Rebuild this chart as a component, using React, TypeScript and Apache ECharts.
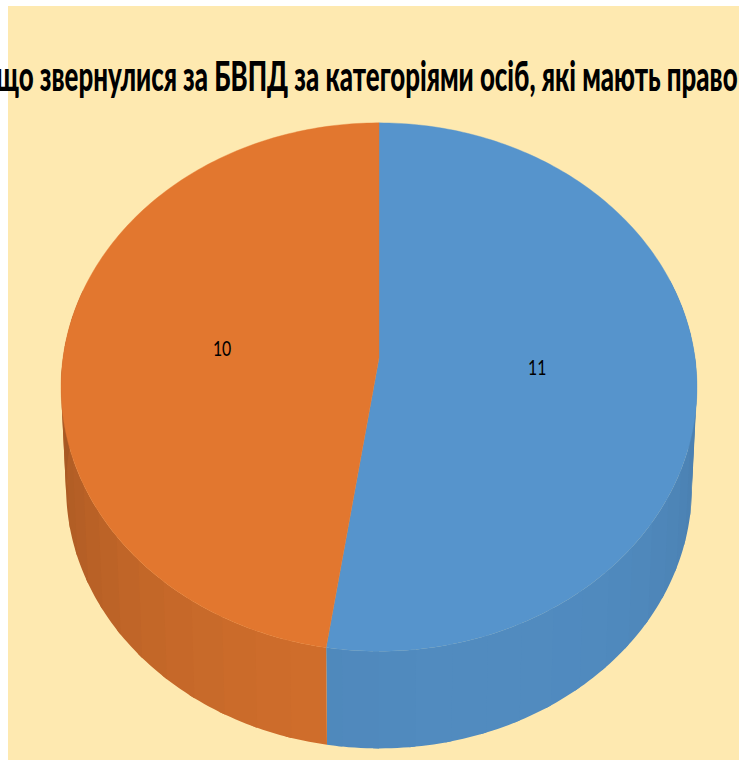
import React, { useEffect, useRef } from "react";
import * as echarts from "echarts";

const categories = ["Категорія 1", "Категорія 2"];
const values = [11, 10];
const titleText = "що звернулися за БВПД за категоріями осіб, які мають право";

const sliceColors = [[86, 148, 204], [226, 119, 47]];
const toRad = Math.PI / 180;
const total = values.reduce((a, b) => a + b, 0);

// perspective projection of the pie's discs
const CX = 379, K = 0.11;
const topDisc = { cy: 358, rx: 316, ry: 261 };
const baseDisc = { cy: 458.5, rx: 311, ry: 258 };
const project = (d: { cy: number; rx: number; ry: number }, deg: number, f = 1): number[] => {
  const u = Math.sin(deg * toRad) * f;
  const v = Math.cos(deg * toRad) * f;
  const s = 1 / (1 + K * v);
  return [CX + d.rx * u * s, d.cy - d.ry * v * s];
};
const sliceRange = (i: number) => {
  const before = values.slice(0, i).reduce((a, b) => a + b, 0);
  return [(before / total) * 360, ((before + values[i]) / total) * 360];
};
const shade = (c: number[], deg: number) => {
  const f = 0.79 + 0.14 * -Math.cos(deg * toRad) + 0.05 * Math.sin(deg * toRad);
  return `rgb(${c.map((x) => Math.round(x * f)).join(",")})`;
};

const renderSide = (params: any) => {
  const i = params.dataIndex;
  const [a, b] = sliceRange(i);
  const children: any[] = [];
  const step = 6;
  for (let t = a; t < b; t += step) {
    const e = Math.min(t + step, b);
    const mid = (t + e) / 2;
    if (Math.cos(mid * toRad) > 0.3) continue;
    const stop = Math.min(e + 1, b);
    const pts: number[][] = [];
    for (let k = t; k < stop; k += 1) pts.push(project(topDisc, k));
    pts.push(project(topDisc, stop));
    pts.push(project(baseDisc, stop));
    for (let k = stop; k > t; k -= 1) pts.push(project(baseDisc, k));
    pts.push(project(baseDisc, t));
    children.push({
      type: "polygon",
      shape: { points: pts },
      style: { fill: shade(sliceColors[i], mid) },
    });
  }
  return { type: "group", children };
};

const renderTop = (params: any, api: any) => {
  const i = params.dataIndex;
  const [a, b] = sliceRange(i);
  const pts: number[][] = [project(topDisc, 0, 0)];
  for (let t = a; t < b; t += 1) pts.push(project(topDisc, t));
  pts.push(project(topDisc, b));
  const fill = `rgb(${sliceColors[i].join(",")})`;
  const lp = project(topDisc, (a + b) / 2, 0.5);
  return {
    type: "group",
    children: [
      { type: "polygon", shape: { points: pts }, style: { fill, stroke: fill, lineWidth: 0.4 } },
      {
        type: "text",
        x: lp[0],
        y: lp[1] - 1,
        scaleX: 0.72,
        style: {
          text: String(api.value(1)),
          fontFamily: "Lato",
          fontSize: 22,
          fill: "#000",
          textAlign: "center",
          textVerticalAlign: "middle",
        },
      },
    ],
  };
};

export default function App() {
  const ref = useRef<HTMLDivElement>(null);
  useEffect(() => {
    const chart = echarts.init(ref.current!, undefined, { renderer: "svg" });
    const data = categories.map((c, i) => ({ name: c, value: [i, values[i]] }));
    chart.setOption({
      animation: false,
      backgroundColor: "#ffffff",
      graphic: [
        { type: "rect", z: -10, shape: { x: 8, y: 6, width: 731, height: 754 }, style: { fill: "#FEE9B0" } },
        {
          type: "text",
          z: 10,
          x: -4,
          y: 75,
          scaleX: 0.631,
          style: {
            text: titleText,
            fontFamily: "Lato",
            fontWeight: 900,
            fontSize: 41,
            fill: "#000",
            textAlign: "left",
            textVerticalAlign: "middle",
          },
        },
      ],
      series: [
        { type: "custom", coordinateSystem: "none", silent: true, z: 1, clip: false, renderItem: renderSide, data },
        { type: "custom", coordinateSystem: "none", silent: true, z: 2, clip: false, renderItem: renderTop, data },
      ],
    });
    return () => chart.dispose();
  }, []);
  return <div ref={ref} style={{ position: "fixed", left: 0, top: 0, width: 739, height: 760 }} />;
}
